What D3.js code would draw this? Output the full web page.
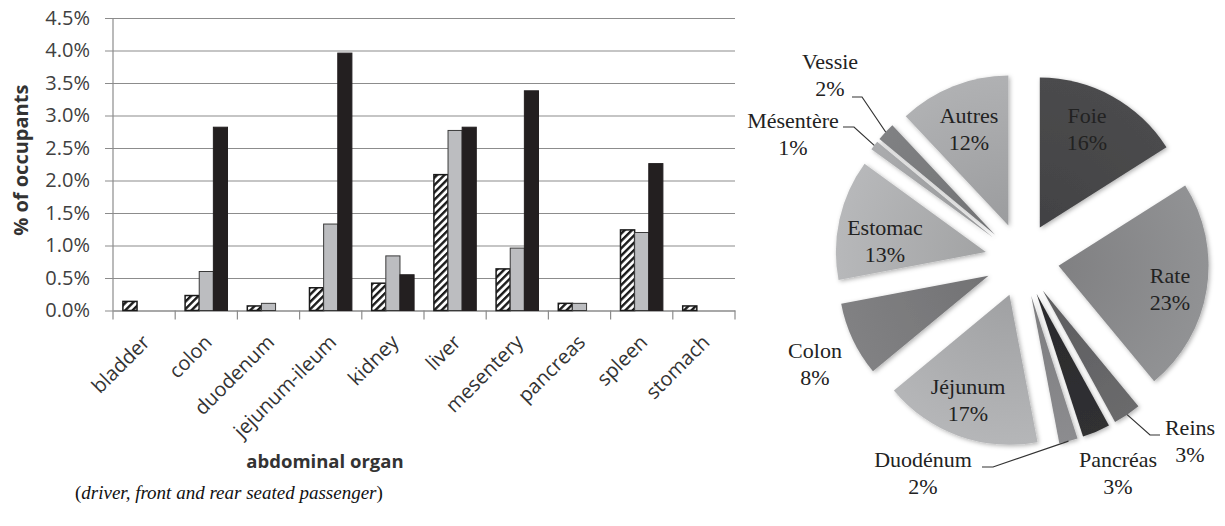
<!DOCTYPE html>
<html>
<head>
<meta charset="utf-8">
<script src="https://cdn.jsdelivr.net/npm/d3@7"></script>
<style>
  body { margin: 0; background: #fff; }
  svg { display: block; }
  .serif { font-family: "Liberation Serif", "Times New Roman", serif; }
  .sans { font-family: "Open Sans", "Liberation Sans", sans-serif; }
</style>
</head>
<body>
<svg id="chart" width="1225" height="526"></svg>
<script>
// ---- bar chart data (% of occupants) ----
var organs = ['bladder', 'colon', 'duodenum', 'jejunum-ileum', 'kidney', 'liver', 'mesentery', 'pancreas', 'spleen', 'stomach'];
var driver = [0.14, 0.23, 0.07, 0.35, 0.42, 2.09, 0.64, 0.11, 1.24, 0.07];
var frontPassenger = [0, 0.60, 0.11, 1.33, 0.84, 2.77, 0.96, 0.11, 1.20, 0];
var rearPassenger = [0, 2.82, 0, 3.96, 0.55, 2.82, 3.38, 0, 2.26, 0];
var yTicks = [0, 0.5, 1.0, 1.5, 2.0, 2.5, 3.0, 3.5, 4.0, 4.5];

// ---- pie data (share of injuries) ----
var pieLabels = ['Foie', 'Rate', 'Reins', 'Pancréas', 'Duodénum', 'Jéjunum', 'Colon', 'Estomac', 'Mésentère', 'Vessie', 'Autres'];
var pieValues = [16, 23, 3, 3, 2, 17, 8, 13, 1, 2, 12];

// ---- styles / layout ----
var pieColors = ['#4a4a4c', '#8e8f91', '#68686a', '#2f2f31', '#8a8a8c', '#b2b3b5', '#7f7f81', '#b4b5b7', '#a8a9ab', '#7e7f81', '#adaeb0'];
// label anchor (first baseline) relative to pie centre
var labelOffsets = [[65, -137], [148, 23], [168, 175], [96, 207], [-99, 207], [-54, 134], [-207, 98], [-137, -25], [-229, -132], [-192, -191], [-53, -137]];
// leader lines: slice index, horizontal start and elbow relative to pie centre
var leaders = [
  { i: 9, start: [-170, -163], elbow: [-160, -163] },
  { i: 8, start: [-179, -133], elbow: [-168, -133] },
  { i: 2, start: [138, 175], elbow: [128, 175] },
  { i: 4, start: [-40, 207], elbow: [-29, 207] }
];

var svg = d3.select('#chart');
var defs = svg.append('defs');

// hatch for the driver bars
defs.append('pattern')
    .attr('id', 'hatch')
    .attr('patternUnits', 'userSpaceOnUse')
    .attr('width', 5.2)
    .attr('height', 5.2)
    .attr('patternTransform', 'rotate(45)')
  .call(function (p) {
    p.append('rect').attr('width', 5.2).attr('height', 5.2).attr('fill', '#fff');
    p.append('rect').attr('width', 2.4).attr('height', 5.2).attr('fill', '#1a1a1a');
  });

var shadow = defs.append('filter')
    .attr('id', 'shadow')
    .attr('x', '-20%').attr('y', '-20%')
    .attr('width', '140%').attr('height', '140%');
shadow.append('feDropShadow')
    .attr('dx', 1.5).attr('dy', 1.5)
    .attr('stdDeviation', 2)
    .attr('flood-color', '#000')
    .attr('flood-opacity', 0.3);

// ================= BAR CHART =================
var plot = { left: 113, right: 735, top: 18, bottom: 310.5 };

var x = d3.scaleBand()
    .domain(organs)
    .range([plot.left, plot.right]);

var series = [
  { name: 'driver', values: driver, fill: 'url(#hatch)', stroke: '#1a1a1a', sw: 1.5 },
  { name: 'front', values: frontPassenger, fill: '#bcbdc0', stroke: '#3a3a3a', sw: 1 },
  { name: 'rear', values: rearPassenger, fill: '#231f20', stroke: '#231f20', sw: 1 }
];

var xSub = d3.scaleBand()
    .domain(series.map(function (s) { return s.name; }))
    .range([0, x.bandwidth()])
    .paddingOuter(0.7);

var y = d3.scaleLinear()
    .domain([0, 4.5])
    .range([plot.bottom, plot.top]);

// gridlines + y axis
var yAxis = d3.axisLeft(y)
    .tickValues(yTicks)
    .tickSize(plot.right - plot.left + 8)
    .tickFormat(function (d) { return d.toFixed(1) + '%'; });

var gy = svg.append('g')
    .attr('transform', 'translate(' + plot.right + ',0)')
    .call(yAxis)
    .attr('font-family', null)
    .attr('class', 'sans');
gy.select('.domain').remove();
gy.selectAll('.tick line').attr('stroke', '#8c8c8c').attr('stroke-width', 1.2);
gy.selectAll('.tick text')
    .attr('x', -(plot.right - plot.left) - 23)
    .attr('font-size', 20)
    .attr('fill', '#404040');

// left axis line
svg.append('line')
    .attr('x1', plot.left).attr('x2', plot.left)
    .attr('y1', plot.top).attr('y2', plot.bottom + 9)
    .attr('stroke', '#8c8c8c').attr('stroke-width', 1.2);

// x axis
var xAxis = d3.axisBottom(x).tickSize(0).tickFormat('');
var gx = svg.append('g')
    .attr('transform', 'translate(0,' + plot.bottom + ')')
    .call(xAxis);
gx.select('.domain').attr('stroke', '#8c8c8c').attr('stroke-width', 1.2);

// category separator ticks
svg.append('g').selectAll('line')
    .data(organs)
  .enter().append('line')
    .attr('x1', function (d) { return x(d) + x.step(); })
    .attr('x2', function (d) { return x(d) + x.step(); })
    .attr('y1', plot.bottom)
    .attr('y2', plot.bottom + 9)
    .attr('stroke', '#8c8c8c').attr('stroke-width', 1.2);

// category labels
svg.append('g').selectAll('text')
    .data(organs)
  .enter().append('text')
    .attr('class', 'sans')
    .attr('transform', function (d) {
      return 'translate(' + (x(d) + x.bandwidth() / 2 + 7) + ',' + (plot.bottom + 33) + ') rotate(-45)';
    })
    .attr('text-anchor', 'end')
    .attr('font-size', 20)
    .attr('fill', '#333')
    .text(function (d) { return d; });

// bars
var groups = svg.append('g').selectAll('g')
    .data(series)
  .enter().append('g');

groups.selectAll('rect')
    .data(function (s) {
      return s.values.map(function (v, i) { return { organ: organs[i], value: v, s: s }; })
        .filter(function (d) { return d.value > 0; });
    })
  .enter().append('rect')
    .attr('x', function (d) { return x(d.organ) + xSub(d.s.name); })
    .attr('y', function (d) { return y(d.value); })
    .attr('width', xSub.bandwidth())
    .attr('height', function (d) { return y(0) - y(d.value); })
    .attr('fill', function (d) { return d.s.fill; })
    .attr('stroke', function (d) { return d.s.stroke; })
    .attr('stroke-width', function (d) { return d.s.sw; });

// axis titles
svg.append('text')
    .attr('class', 'sans')
    .attr('transform', 'translate(28,' + ((plot.top + plot.bottom) / 2 - 4) + ') rotate(-90)')
    .attr('text-anchor', 'middle')
    .attr('font-weight', 'bold')
    .attr('font-size', 20)
    .attr('fill', '#333')
    .text('% of occupants');

svg.append('text')
    .attr('class', 'sans')
    .attr('x', 325)
    .attr('y', 468)
    .attr('text-anchor', 'middle')
    .attr('font-weight', 'bold')
    .attr('font-size', 18.5)
    .attr('fill', '#333')
    .text('abdominal organ');

var caption = svg.append('text')
    .attr('class', 'serif')
    .attr('x', 75)
    .attr('y', 499)
    .attr('font-size', 19)
    .attr('fill', '#111');
caption.append('tspan').text('(');
caption.append('tspan').attr('font-style', 'italic').text('driver, front and rear seated passenger');
caption.append('tspan').text(')');

// ================= PIE CHART =================
var pieC = { x: 1022, y: 260 };
var R = 150, explode = 37;

var pie = d3.pie().sort(null).value(function (d) { return d; });
var arcs = pie(pieValues);
var arc = d3.arc().innerRadius(0).outerRadius(R);

function shiftOf(a) {
  var m = (a.startAngle + a.endAngle) / 2;
  return [explode * Math.sin(m), -explode * Math.cos(m)];
}

arcs.forEach(function (a, i) {
  var c = d3.color(pieColors[i]);
  var g = defs.append('radialGradient')
      .attr('id', 'pg' + i)
      .attr('gradientUnits', 'userSpaceOnUse')
      .attr('cx', 0).attr('cy', 0).attr('r', R);
  g.append('stop').attr('offset', '0%').attr('stop-color', c.darker(0.3));
  g.append('stop').attr('offset', '100%').attr('stop-color', c.brighter(0.05));
});

var pieG = svg.append('g')
    .attr('transform', 'translate(' + pieC.x + ',' + pieC.y + ')');

pieG.selectAll('path')
    .data(arcs)
  .enter().append('path')
    .attr('transform', function (d) { var s = shiftOf(d); return 'translate(' + s[0] + ',' + s[1] + ')'; })
    .attr('d', arc)
    .attr('fill', function (d, i) { return 'url(#pg' + i + ')'; })
    .attr('filter', 'url(#shadow)');

// leader lines
pieG.selectAll('polyline')
    .data(leaders)
  .enter().append('polyline')
    .attr('points', function (l) {
      var a = arcs[l.i], s = shiftOf(a), m = (a.startAngle + a.endAngle) / 2;
      var ex = s[0] + R * Math.sin(m), ey = s[1] - R * Math.cos(m);
      return [l.start, l.elbow, [ex, ey]].map(function (p) { return p.join(','); }).join(' ');
    })
    .attr('fill', 'none')
    .attr('stroke', '#333')
    .attr('stroke-width', 1.2);

// labels
var lab = pieG.selectAll('text.lab')
    .data(arcs)
  .enter().append('text')
    .attr('class', 'lab serif')
    .attr('text-anchor', 'middle')
    .attr('font-size', 22)
    .attr('fill', '#222');

lab.append('tspan')
    .attr('x', function (d, i) { return labelOffsets[i][0]; })
    .attr('y', function (d, i) { return labelOffsets[i][1]; })
    .text(function (d, i) { return pieLabels[i]; });
lab.append('tspan')
    .attr('x', function (d, i) { return labelOffsets[i][0]; })
    .attr('y', function (d, i) { return labelOffsets[i][1] + 27; })
    .text(function (d) { return d.value + '%'; });
</script>
</body>
</html>
